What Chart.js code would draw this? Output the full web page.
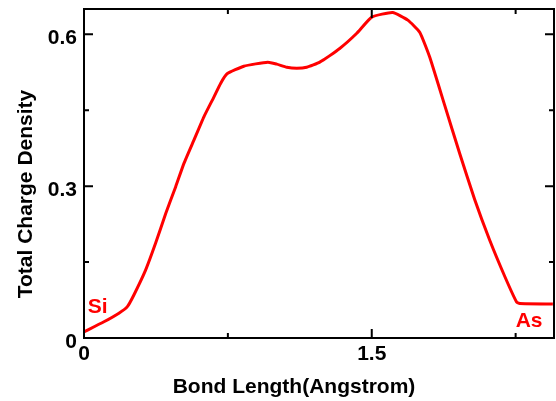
<!DOCTYPE html>
<html>
<head>
<meta charset="utf-8">
<script src="https://cdn.jsdelivr.net/npm/chart.js@4"></script>
<style>
  body { margin: 0; background: #fff; }
  canvas { display: block; }
</style>
</head>
<body>
<canvas id="chart" width="556" height="401"></canvas>
<script>
// 결합 길이 (Angstrom) 과 전하 밀도
const bondLength = [0, 0.104, 0.182, 0.226, 0.26, 0.321, 0.373, 0.426, 0.478, 0.521,
  0.573, 0.625, 0.677, 0.712, 0.746, 0.833, 0.958, 1.005, 1.057, 1.109,
  1.161, 1.229, 1.333, 1.422, 1.5, 1.609, 1.688, 1.75, 1.802, 1.88,
  1.958, 2.036, 2.115, 2.193, 2.255, 2.271, 2.444];
const chargeDensity = [0.012, 0.032, 0.049, 0.062, 0.085, 0.134, 0.187, 0.246, 0.299, 0.345,
  0.391, 0.437, 0.476, 0.503, 0.522, 0.537, 0.545, 0.541, 0.535, 0.533,
  0.535, 0.545, 0.572, 0.602, 0.634, 0.643, 0.628, 0.604, 0.555, 0.46,
  0.365, 0.274, 0.193, 0.122, 0.071, 0.068, 0.067];

// 축 눈금
const xTicks = [0, 1.5];
const xMinorTicks = [0.75, 2.25];
const yTicks = [0, 0.3, 0.6];
const yMinorTicks = [0.15, 0.45];

// 원자 라벨
const atomNames = ['Si', 'As'];
const atomX = [0.02, 2.39];
const atomY = [0.06, 0.033];

const FONT = '"Liberation Sans", Arial, Helvetica, sans-serif';

// 테두리, 안쪽 눈금, 축 제목, 원자 라벨 그리기
const framePlugin = {
  id: 'frame',
  afterDraw(chart) {
    const { ctx, chartArea: a, scales } = chart;
    const xs = scales.x, ys = scales.y;
    ctx.save();
    ctx.strokeStyle = '#000';
    ctx.lineWidth = 2;
    ctx.strokeRect(a.left, a.top, a.right - a.left, a.bottom - a.top);

    ctx.beginPath();
    const xMark = (v, len) => {
      const px = xs.getPixelForValue(v);
      ctx.moveTo(px, a.bottom); ctx.lineTo(px, a.bottom - len);
      ctx.moveTo(px, a.top); ctx.lineTo(px, a.top + len);
    };
    const yMark = (v, len) => {
      const py = ys.getPixelForValue(v);
      ctx.moveTo(a.left, py); ctx.lineTo(a.left + len, py);
      ctx.moveTo(a.right, py); ctx.lineTo(a.right - len, py);
    };
    xTicks.forEach(v => xMark(v, 9));
    xMinorTicks.forEach(v => xMark(v, 5));
    yTicks.forEach(v => yMark(v, 9));
    yMinorTicks.forEach(v => yMark(v, 5));
    ctx.stroke();

    // 축 제목
    ctx.fillStyle = '#000';
    ctx.font = 'bold 21px ' + FONT;
    ctx.textAlign = 'center';
    ctx.textBaseline = 'alphabetic';
    ctx.fillText('Bond Length(Angstrom)', 294, 393);
    ctx.save();
    ctx.translate(32, 194);
    ctx.rotate(-Math.PI / 2);
    ctx.fillText('Total Charge Density', 0, 0);
    ctx.restore();

    // Si / As
    ctx.fillStyle = '#ff0000';
    ctx.textBaseline = 'middle';
    atomNames.forEach((name, i) => {
      ctx.textAlign = i === 0 ? 'left' : 'right';
      ctx.fillText(name, xs.getPixelForValue(atomX[i]), ys.getPixelForValue(atomY[i]));
    });
    ctx.restore();
  }
};

function noPad(s) {
  s.paddingTop = 0;
  s.paddingBottom = 0;
  s.paddingLeft = 0;
  s.paddingRight = 0;
}

new Chart(document.getElementById('chart').getContext('2d'), {
  type: 'line',
  data: {
    labels: bondLength,
    datasets: [{
      data: bondLength.map((x, i) => ({ x, y: chargeDensity[i] })),
      borderColor: '#ff0000',
      borderWidth: 3,
      pointRadius: 0,
      tension: 0.15,
      fill: false
    }]
  },
  options: {
    responsive: false,
    animation: false,
    layout: { padding: { left: 0, top: 9, right: 2, bottom: 0 } },
    plugins: { legend: { display: false }, tooltip: { enabled: false } },
    scales: {
      x: {
        type: 'linear',
        min: 0,
        max: 2.45,
        afterBuildTicks: s => { s.ticks = xTicks.map(v => ({ value: v })); },
        afterFit: s => { s.height = 63; noPad(s); },
        grid: { display: false, drawTicks: false },
        border: { display: false },
        ticks: {
          color: '#000',
          padding: 4,
          maxRotation: 0,
          font: { family: FONT, size: 21, weight: 'bold' }
        }
      },
      y: {
        type: 'linear',
        min: 0,
        max: 0.65,
        afterBuildTicks: s => { s.ticks = yTicks.map(v => ({ value: v })); },
        afterFit: s => { s.width = 84; noPad(s); },
        grid: { display: false, drawTicks: false },
        border: { display: false },
        ticks: {
          color: '#000',
          padding: 7,
          labelOffset: 4,
          font: { family: FONT, size: 21, weight: 'bold' }
        }
      }
    }
  },
  plugins: [framePlugin]
});
</script>
</body>
</html>
